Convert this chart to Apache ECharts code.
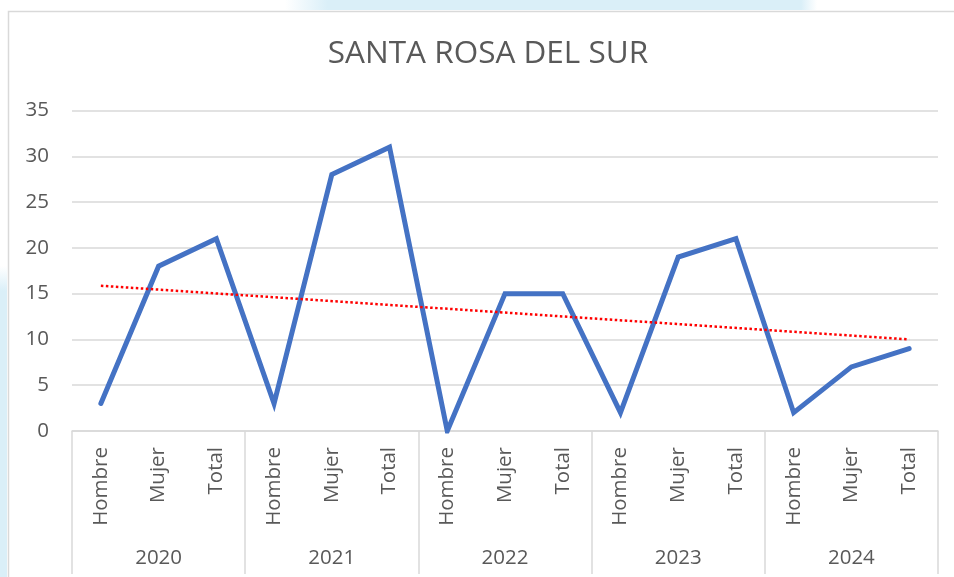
<!DOCTYPE html>
<html>
<head>
<meta charset="utf-8">
<script src="https://cdn.jsdelivr.net/npm/echarts@6/dist/echarts.min.js"></script>
<style>
html,body{margin:0;padding:0;background:#fff;}
#c{width:954px;height:577px;}
</style>
</head>
<body>
<div id="c"></div>
<script>
const title = 'SANTA ROSA DEL SUR';
const subCategories = ['Hombre','Mujer','Total','Hombre','Mujer','Total','Hombre','Mujer','Total','Hombre','Mujer','Total','Hombre','Mujer','Total'];
const years = ['2020','2021','2022','2023','2024'];
const values = [3, 18, 21, 3, 28, 31, 0, 15, 15, 2, 19, 21, 2, 7, 9];
const trendStart = 15.86;
const trendEnd = 10.0;
const yTicks = { min: 0, max: 35, interval: 5 };

const trendData = values.map((v, i) => i === 0 ? trendStart : (i === values.length - 1 ? trendEnd : null));

const chart = echarts.init(document.getElementById('c'), null, {renderer: 'canvas'});
const txt = '#595959';
const grid = '#d9d9d9';
const FONT = '"Open Sans", sans-serif';

chart.setOption({
  animation: false,
  backgroundColor: '#ffffff',
  textStyle: { fontFamily: FONT },
  graphic: [
    { type: 'rect', z: -10, shape: { x: 285, y: 0, width: 532, height: 10 },
      style: { fill: new echarts.graphic.LinearGradient(0, 0, 1, 0, [
        {offset: 0, color: 'rgba(218,239,248,0)'},
        {offset: 0.08, color: 'rgba(218,239,248,1)'},
        {offset: 0.97, color: 'rgba(218,239,248,1)'},
        {offset: 1, color: 'rgba(218,239,248,0)'}]) } },
    { type: 'rect', z: -10, shape: { x: 0, y: 266, width: 7, height: 311 },
      style: { fill: new echarts.graphic.LinearGradient(0, 0, 0, 1, [
        {offset: 0, color: 'rgba(218,239,248,0)'},
        {offset: 0.08, color: 'rgba(218,239,248,1)'},
        {offset: 1, color: 'rgba(218,239,248,1)'}]) } },
    { type: 'rect', z: -5, shape: { x: 8.5, y: 11.5, width: 1000, height: 700 },
      style: { fill: '#ffffff', stroke: grid, lineWidth: 1.5 } }
  ],
  title: {
    text: title,
    left: 483,
    textAlign: 'center',
    top: 33,
    textStyle: { fontFamily: FONT, fontSize: 31.5, fontWeight: 'normal', color: txt }
  },
  grid: { left: 72, right: 16, top: 110.5, bottom: 146, containLabel: false },
  xAxis: [
    {
      type: 'category',
      data: subCategories,
      boundaryGap: true,
      position: 'bottom',
      offset: 0,
      axisLine: { show: true, lineStyle: { color: grid, width: 1.5 } },
      axisTick: { show: false },
      axisLabel: { rotate: 90, margin: 16, fontSize: 20.5, color: txt, fontFamily: FONT, interval: 0 }
    },
    {
      type: 'category',
      data: years,
      boundaryGap: true,
      position: 'bottom',
      offset: 0,
      axisLine: { show: false },
      axisTick: { show: true, length: 143, lineStyle: { color: grid, width: 1.5 } },
      axisLabel: { margin: 117, fontSize: 20.5, color: txt, fontFamily: FONT, interval: 0 }
    }
  ],
  yAxis: {
    type: 'value',
    min: yTicks.min, max: yTicks.max, interval: yTicks.interval,
    axisLine: { show: false },
    axisTick: { show: false },
    splitLine: { show: true, lineStyle: { color: grid, width: 1.5 } },
    axisLabel: { margin: 23, fontSize: 20.5, color: txt, fontFamily: FONT }
  },
  series: [
    {
      type: 'line',
      data: values,
      xAxisIndex: 0,
      symbol: 'none',
      lineStyle: { color: '#4472C4', width: 5, join: 'miter', cap: 'round' },
      z: 3
    },
    {
      type: 'line',
      data: trendData,
      xAxisIndex: 0,
      connectNulls: true,
      symbol: 'none',
      lineStyle: { color: '#FF0000', width: 2.5, type: [2.5, 2.5] },
      z: 4
    }
  ]
});
</script>
</body>
</html>
